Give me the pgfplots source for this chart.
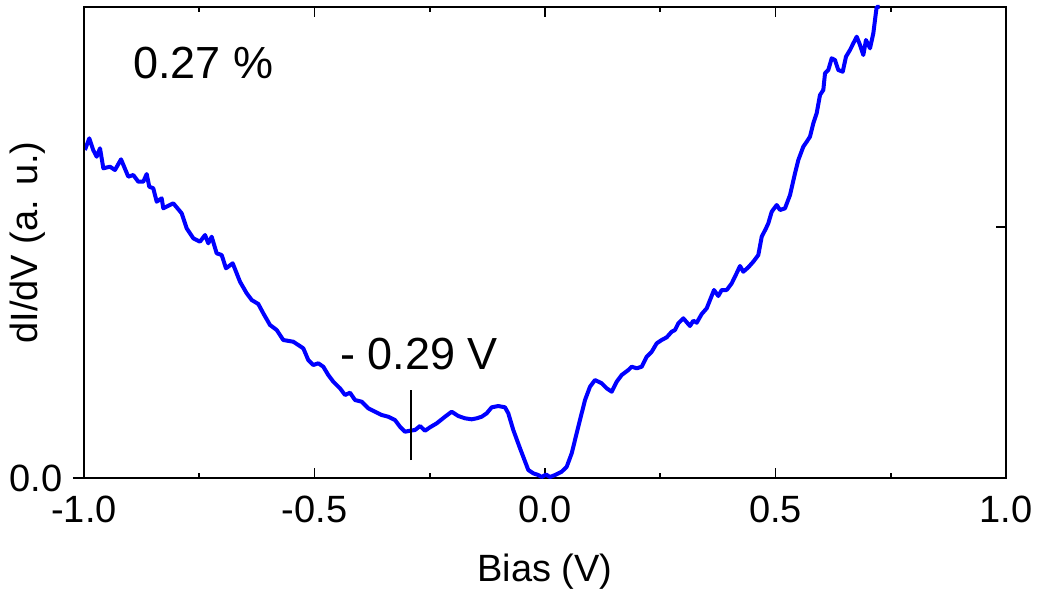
\documentclass[border=0pt]{standalone}
\usepackage{pgfplots}
\pgfplotsset{compat=1.18}
\usepackage{fontspec}
\setmainfont{Liberation Sans}
\definecolor{curveblue}{RGB}{0,0,255}
\begin{document}
\begin{tikzpicture}
\begin{axis}[
  scale only axis, width=461pt, height=235.5pt,
  xmin=-1, xmax=1, ymin=0, ymax=4.71,
  clip=false,
  axis line style={line width=0.8pt, black},
  xtick={-1,-0.5,0,0.5,1},
  xticklabels={-1.0,-0.5,0.0,0.5,1.0},
  minor x tick num=1,
  tick align=inside,
  major tick length=5pt, minor tick length=2.5pt,
  tick style={black, line width=0.8pt},
  xticklabel style={font=\fontsize{19}{22}\selectfont, anchor=north, inner sep=0pt, yshift=-9pt},
  ytick={2.51}, yticklabels={}, ytick pos=right,
  xlabel={Bias (V)},
  xlabel style={font=\fontsize{19}{22}\selectfont, at={(axis description cs:0.5,0)}, anchor=center, yshift=-47pt},
]
\addplot[curveblue, line width=2pt, line join=round] coordinates {
(-0.998,3.28) (-0.9885,3.397) (-0.980,3.28) (-0.9725,3.213) (-0.9653,3.297) (-0.958,3.097)
(-0.9436,3.113) (-0.9328,3.08) (-0.9197,3.187) (-0.9039,3.013) (-0.8931,3.03) (-0.8822,2.963)
(-0.8714,2.963) (-0.864,3.04) (-0.8584,2.913) (-0.8497,2.897) (-0.8423,2.763) (-0.8315,2.797)
(-0.828,2.697) (-0.8063,2.747) (-0.7881,2.647) (-0.7773,2.497) (-0.7629,2.397) (-0.7484,2.363)
(-0.7375,2.43) (-0.7304,2.347) (-0.723,2.413) (-0.7122,2.247) (-0.7013,2.23) (-0.692,2.097)
(-0.6774,2.147) (-0.6616,1.963) (-0.6471,1.847) (-0.6362,1.78) (-0.6219,1.74) (-0.6111,1.647)
(-0.5965,1.53) (-0.582,1.48) (-0.5677,1.38) (-0.546,1.363) (-0.5243,1.297) (-0.5135,1.18)
(-0.5026,1.13) (-0.4918,1.147) (-0.4809,1.113) (-0.4701,1.03) (-0.4592,0.963) (-0.4447,0.897)
(-0.4338,0.83) (-0.423,0.853) (-0.4121,0.78) (-0.3976,0.763) (-0.3833,0.697) (-0.3688,0.663)
(-0.3542,0.63) (-0.3399,0.613) (-0.3254,0.58) (-0.3145,0.513) (-0.3037,0.463) (-0.2928,0.473)
(-0.282,0.48) (-0.2711,0.52) (-0.2603,0.473) (-0.2495,0.507) (-0.2349,0.547) (-0.2169,0.613)
(-0.2024,0.663) (-0.1881,0.62) (-0.1735,0.597) (-0.159,0.587) (-0.1482,0.597) (-0.1373,0.613)
(-0.1265,0.647) (-0.1156,0.707) (-0.1013,0.72) (-0.0868,0.707) (-0.0796,0.647) (-0.0688,0.48)
(-0.0542,0.297) (-0.0362,0.08) (-0.0254,0.047) (-0.0145,0.03) (-0.0072,0.01) (0.0022,0.035)
(0.0108,0.01) (0.0217,0.03) (0.0362,0.063) (0.0471,0.113) (0.0579,0.247) (0.0722,0.513)
(0.0868,0.78) (0.0976,0.913) (0.1085,0.98) (0.123,0.947) (0.1338,0.897) (0.1447,0.863)
(0.1555,0.963) (0.1664,1.03) (0.1807,1.08) (0.1881,1.113) (0.1989,1.097) (0.2098,1.113)
(0.2206,1.213) (0.2315,1.263) (0.2423,1.347) (0.2531,1.38) (0.264,1.407) (0.2748,1.463)
(0.282,1.48) (0.2892,1.547) (0.3,1.597) (0.3145,1.52) (0.3217,1.573) (0.3291,1.553)
(0.3399,1.64) (0.3508,1.697) (0.3579,1.78) (0.3666,1.88) (0.3759,1.82) (0.3833,1.88)
(0.3941,1.88) (0.405,1.947) (0.4121,2.013) (0.423,2.12) (0.4302,2.063) (0.441,2.107)
(0.4518,2.163) (0.4627,2.23) (0.4701,2.413) (0.4794,2.497) (0.4844,2.547) (0.4918,2.663)
(0.5026,2.73) (0.5098,2.68) (0.5206,2.697) (0.5315,2.83) (0.5423,3.047) (0.5495,3.18)
(0.5603,3.313) (0.5677,3.363) (0.5748,3.413) (0.582,3.547) (0.5893,3.647) (0.5965,3.83)
(0.6037,3.88) (0.6074,4.047) (0.6145,4.08) (0.6219,4.197) (0.629,4.18) (0.6362,4.08)
(0.6458,4.063) (0.6529,4.213) (0.6616,4.28) (0.6688,4.347) (0.6761,4.413) (0.6833,4.33)
(0.6905,4.23) (0.6963,4.38) (0.705,4.297) (0.7122,4.447) (0.7158,4.58) (0.7194,4.71)
(0.726,4.71)
};
\addplot[black, line width=1pt] coordinates {(-0.2907,0.18) (-0.2907,0.88)};
\node[anchor=west, inner sep=0pt, font=\fontsize{22.5}{26}\selectfont] at (axis cs:-0.894,4.15) {0.27 \%};
\node[anchor=west, inner sep=0pt, font=\fontsize{22.5}{26}\selectfont] at (axis cs:-0.445,1.245) {- 0.29 V};
\end{axis}
\begin{axis}[
  scale only axis, width=461pt, height=235.5pt,
  xmin=-1, xmax=1, ymin=0, ymax=4.71,
  hide x axis,
  axis y line*=left,
  axis line style={line width=0.8pt, black, -},
  ytick={0}, yticklabels={0.0},
  tick align=outside,
  major tick length=5.5pt,
  tick style={black, line width=0.8pt},
  yticklabel style={font=\fontsize{19}{22}\selectfont, anchor=east, inner sep=0pt, xshift=-5pt},
  ylabel={dI/dV (a. u.)},
  ylabel style={font=\fontsize{19}{22}\selectfont, at={(axis description cs:-0.0607,0.5)}, anchor=center},
]
\end{axis}
\pgfresetboundingbox
\path ([shift={(-42pt,-58pt)}]current axis.south west) rectangle ([shift={(16pt,3.5pt)}]current axis.north east);
\end{tikzpicture}
\end{document}
